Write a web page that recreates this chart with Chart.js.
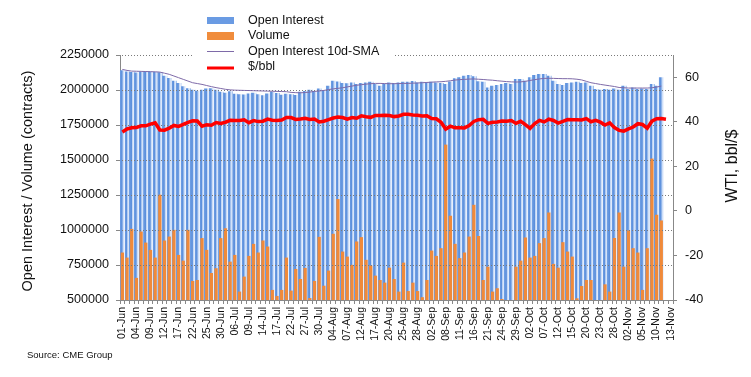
<!DOCTYPE html>
<html>
<head>
<meta charset="utf-8">
<script src="https://cdn.jsdelivr.net/npm/chart.js@4/dist/chart.umd.min.js"></script>
<style>
  html, body { margin: 0; padding: 0; background: #fff; }
  #wrap { position: relative; width: 751px; height: 377px; }
</style>
</head>
<body>
<div id="wrap"><canvas id="oiChart" width="751" height="377"></canvas></div>
<script>
// trading days, 01-Jun .. 13-Nov
const dates = [
  '01-Jun','02-Jun','03-Jun','04-Jun','05-Jun','08-Jun','09-Jun','10-Jun','11-Jun','12-Jun','15-Jun','16-Jun','17-Jun','18-Jun','19-Jun','22-Jun','23-Jun','24-Jun','25-Jun','26-Jun','29-Jun','30-Jun',
  '01-Jul','02-Jul','06-Jul','07-Jul','08-Jul','09-Jul','10-Jul','13-Jul','14-Jul','15-Jul','16-Jul','17-Jul','20-Jul','21-Jul','22-Jul','23-Jul','24-Jul','27-Jul','28-Jul','29-Jul','30-Jul','31-Jul',
  '03-Aug','04-Aug','05-Aug','06-Aug','07-Aug','10-Aug','11-Aug','12-Aug','13-Aug','14-Aug','17-Aug','18-Aug','19-Aug','20-Aug','21-Aug','24-Aug','25-Aug','26-Aug','27-Aug','28-Aug','31-Aug',
  '01-Sep','02-Sep','03-Sep','04-Sep','08-Sep','09-Sep','10-Sep','11-Sep','14-Sep','15-Sep','16-Sep','17-Sep','18-Sep','21-Sep','22-Sep','23-Sep','24-Sep','25-Sep','28-Sep','29-Sep','30-Sep',
  '01-Oct','02-Oct','05-Oct','06-Oct','07-Oct','08-Oct','09-Oct','12-Oct','13-Oct','14-Oct','15-Oct','16-Oct','19-Oct','20-Oct','21-Oct','22-Oct','23-Oct','26-Oct','27-Oct','28-Oct','29-Oct','30-Oct',
  '02-Nov','03-Nov','04-Nov','05-Nov','06-Nov','09-Nov','10-Nov','11-Nov','12-Nov','13-Nov'
];

const openInterest = [
  2138000,2130000,2126000,2122000,2128000,2132000,2130000,2127000,2125000,2100000,2083000,2064000,2047000,2024000,2011000,1999000,1992000,2000000,2009000,2011000,1999000,1985000,
  1978000,1988000,1970000,1968000,1965000,1972000,1978000,1968000,1960000,1972000,1985000,1976000,1964000,1970000,1968000,1962000,1985000,1990000,1999000,1990000,2009000,1998000,
  2028000,2064000,2058000,2047000,2045000,2052000,2040000,2047000,2052000,2057000,2040000,2028000,2040000,2052000,2047000,2052000,2057000,2057000,2062000,2052000,2057000,
  2052000,2057000,2052000,2047000,2040000,2059000,2081000,2088000,2100000,2105000,2095000,2060000,2057000,2016000,2028000,2033000,2040000,2047000,2040000,2076000,2076000,
  2064000,2088000,2105000,2112000,2112000,2100000,2064000,2040000,2033000,2047000,2052000,2057000,2047000,2052000,2028000,2004000,1999000,2004000,1999000,2009000,1999000,2028000,
  2004000,2016000,2004000,2009000,2004000,2040000,2028000,2088000,null,null
];

const volume = [
  839000,803000,1008000,658000,989000,910000,858000,803000,1252000,925000,953000,1001000,822000,781000,1001000,636000,643000,942000,858000,693000,727000,942000,
  1013000,774000,822000,560000,667000,815000,901000,839000,925000,882000,572000,529000,572000,803000,567000,722000,650000,729000,514000,636000,951000,602000,
  710000,973000,1221000,846000,810000,751000,918000,949000,787000,746000,674000,643000,624000,731000,650000,560000,767000,564000,624000,564000,520000,
  643000,853000,815000,870000,1610000,1102000,901000,799000,839000,953000,1180000,958000,643000,738000,560000,584000,507000,480000,480000,738000,781000,
  946000,803000,815000,906000,942000,1125000,758000,731000,913000,846000,810000,512000,600000,643000,643000,490000,490000,612000,560000,942000,1125000,738000,
  996000,870000,839000,572000,870000,1510000,1109000,1068000,null,null
];

const oiSma10 = [
  2147000,2140000,2135000,2134000,2133000,2132000,2131000,2130000,2128000,2120000,2112000,2100000,2088000,2076000,2064000,2052000,2046000,2040000,2032000,2024000,2017000,2011000,
  2005000,2001000,1999000,1998000,1997000,1996000,1995000,1994000,1993000,1992000,1991000,1990000,1989000,1988000,1983000,1981000,1980000,1982000,1985000,1990000,1993000,1997000,
  2003000,2008000,2012000,2016000,2022000,2028000,2034000,2038000,2042000,2045000,2047000,2047000,2046000,2045000,2045000,2046000,2047000,2047000,2049000,2050000,2052000,
  2054000,2056000,2058000,2059000,2062000,2066000,2071000,2074000,2076000,2078000,2079000,2077000,2075000,2072000,2070000,2066000,2063000,2060000,2058000,2057000,2058000,
  2062000,2068000,2074000,2079000,2083000,2084000,2083000,2082000,2081000,2081000,2080000,2077000,2072000,2062000,2052000,2046000,2040000,2035000,2030000,2025000,2018000,2016000,
  2014000,2014000,2014000,2014000,2014000,2016000,2021000,2028000,null,null
];

const wtiPrice = [
  35.44,36.81,37.29,37.41,38.2,38.19,38.94,39.60,36.34,36.26,37.12,38.38,37.96,38.84,39.75,40.46,40.37,38.01,38.72,38.49,39.70,39.27,
  39.82,40.65,40.63,40.62,40.90,39.62,40.55,40.10,40.29,41.20,40.75,40.59,40.81,41.96,41.90,41.07,41.29,41.60,41.04,41.27,39.92,40.27,
  41.01,41.70,42.19,41.95,41.22,41.94,41.61,42.67,42.24,42.01,42.89,42.89,42.93,42.82,42.34,42.62,43.35,43.39,43.04,42.97,42.61,
  42.76,41.51,41.37,39.77,36.76,38.05,37.30,37.33,37.26,38.28,40.16,40.97,41.11,39.31,39.80,39.93,40.31,40.25,40.60,39.29,40.22,
  38.72,37.05,39.22,40.67,39.95,41.19,40.60,39.43,40.20,41.04,40.96,40.88,40.83,41.46,40.03,40.64,39.85,38.56,39.57,37.39,36.17,35.79,
  36.81,37.66,39.15,38.79,37.14,40.29,41.36,41.45,41.12,null
];

const leftTicks = [500000,750000,1000000,1250000,1500000,1750000,2000000,2250000];
const rightTicks = [-40,-20,0,20,40,60];

const FONT = "'Liberation Sans', Arial, Helvetica, sans-serif";

// striped blue fill: one blue->pale band per category
let oiFill = null, oiKey = '';
function oiGradient(context) {
  const chart = context.chart;
  const area = chart.chartArea;
  if (!area) return '#6f9fe4';
  const key = area.left + ':' + area.right;
  if (oiFill && oiKey === key) return oiFill;
  const g = chart.ctx.createLinearGradient(area.left, 0, area.right, 0);
  const n = dates.length;
  for (let i = 0; i < n; i++) {
    const s = i / n, w = 1 / n;
    g.addColorStop(s + w * 0.02, '#6e9ee3');
    g.addColorStop(s + w * 0.45, '#5b8fdc');
    g.addColorStop(s + w * 0.62, '#bcd3f4');
    g.addColorStop(s + w * 0.98, '#ecf2fd');
  }
  oiFill = g; oiKey = key;
  return g;
}

// dotted horizontal gridlines at the left-axis ticks, over the bars, under the lines
const dottedGrid = {
  id: 'dottedGrid',
  afterDatasetDraw(chart, args) {
    if (args.index !== 2) return; // right after the volume bars
    const { ctx, chartArea: a } = chart;
    const ys = chart.scales.y;
    ctx.save();
    ctx.strokeStyle = '#7a7a7a';
    ctx.lineWidth = 1;
    ctx.setLineDash([1, 2]);
    leftTicks.slice(1).forEach(v => {
      const y = Math.round(ys.getPixelForValue(v)) + 0.5;
      ctx.beginPath();
      ctx.moveTo(a.left + 2, y);
      ctx.lineTo(a.right, y);
      ctx.stroke();
    });
    ctx.restore();
  }
};

const decor = {
  id: 'decor',
  afterDraw(chart) {
    const ctx = chart.ctx;
    ctx.save();
    // legend box
    ctx.fillStyle = '#fff';
    ctx.fillRect(193, 6, 200, 69);
    ctx.fillStyle = '#6a9be3';
    ctx.fillRect(207, 17, 27, 7);
    ctx.fillStyle = '#f08c3c';
    ctx.fillRect(207, 32, 27, 8);
    ctx.strokeStyle = '#7e6aa8';
    ctx.lineWidth = 1;
    ctx.beginPath(); ctx.moveTo(207, 51.5); ctx.lineTo(234, 51.5); ctx.stroke();
    ctx.strokeStyle = '#ff0000';
    ctx.lineWidth = 3;
    ctx.beginPath(); ctx.moveTo(207, 68); ctx.lineTo(234, 68); ctx.stroke();

    ctx.fillStyle = '#111';
    ctx.font = '12.5px ' + FONT;
    ctx.textAlign = 'left';
    ctx.textBaseline = 'middle';
    ctx.fillText('Open Interest', 248, 20.5);
    ctx.fillText('Volume', 248, 36);
    ctx.fillText('Open Interest 10d-SMA', 248, 51.5);
    ctx.fillText('$/bbl', 248, 67);

    // axis titles
    ctx.textAlign = 'center';
    ctx.font = '14.5px ' + FONT;
    ctx.save();
    ctx.translate(28, 181);
    ctx.rotate(-Math.PI / 2);
    ctx.fillText('Open Interest / Volume (contracts)', 0, 0);
    ctx.restore();

    ctx.font = '16px ' + FONT;
    ctx.save();
    ctx.translate(733, 166);
    ctx.rotate(-Math.PI / 2);
    ctx.fillText('WTI, bbl/$', 0, 0);
    ctx.restore();

    // source note
    ctx.textAlign = 'left';
    ctx.font = '9.5px ' + FONT;
    ctx.fillText('Source: CME Group', 27, 355);
    ctx.restore();
  }
};

new Chart(document.getElementById('oiChart'), {
  data: {
    labels: dates,
    datasets: [
      {
        type: 'line',
        label: '$/bbl',
        data: wtiPrice,
        yAxisID: 'y1',
        borderColor: '#ff0000',
        borderWidth: 3.5,
        pointRadius: 0,
        tension: 0,
        order: 0
      },
      {
        type: 'line',
        label: 'Open Interest 10d-SMA',
        data: oiSma10,
        yAxisID: 'y',
        borderColor: '#7e6aa8',
        borderWidth: 1,
        pointRadius: 0,
        tension: 0,
        order: 1
      },
      {
        type: 'bar',
        label: 'Volume',
        data: volume,
        yAxisID: 'y',
        grouped: false,
        backgroundColor: '#f08a3a',
        barPercentage: 0.7,
        categoryPercentage: 1,
        order: 2
      },
      {
        type: 'bar',
        label: 'Open Interest',
        data: openInterest,
        yAxisID: 'y',
        grouped: false,
        backgroundColor: oiGradient,
        barPercentage: 1,
        categoryPercentage: 1,
        order: 3
      }
    ]
  },
  options: {
    responsive: false,
    animation: false,
    layout: { padding: { top: 55, left: 0, right: 0, bottom: 0 } },
    plugins: {
      legend: { display: false },
      tooltip: { enabled: false }
    },
    scales: {
      x: {
        offset: true,
        grid: { display: true, drawOnChartArea: false, drawTicks: true, tickLength: 4, offset: true, color: '#888' },
        border: { color: '#888' },
        ticks: {
          autoSkip: false,
          minRotation: 90,
          maxRotation: 90,
          padding: 3,
          color: '#111',
          font: { family: FONT, size: 10.5 },
          callback: (v, i) => (i % 3 === 0 ? dates[i] : '')
        },
        afterFit: s => { s.height = 77; }
      },
      y: {
        position: 'left',
        min: 500000,
        max: 2250000,
        afterBuildTicks: s => { s.ticks = leftTicks.map(v => ({ value: v })); },
        ticks: { padding: 7, color: '#111', font: { family: FONT, size: 12.6 }, callback: v => String(v) },
        grid: { drawOnChartArea: false, tickLength: 4, color: '#888' },
        border: { display: true, color: '#888' },
        afterFit: s => { s.width = 120; }
      },
      y1: {
        position: 'right',
        min: -40,
        max: 70,
        afterBuildTicks: s => { s.ticks = rightTicks.map(v => ({ value: v })); },
        ticks: { padding: 8, color: '#111', font: { family: FONT, size: 12.6 } },
        grid: { drawOnChartArea: false, tickLength: 4, color: '#888' },
        border: { display: true, color: '#888' },
        afterFit: s => { s.width = 78; }
      }
    }
  },
  plugins: [dottedGrid, decor]
});
</script>
</body>
</html>
